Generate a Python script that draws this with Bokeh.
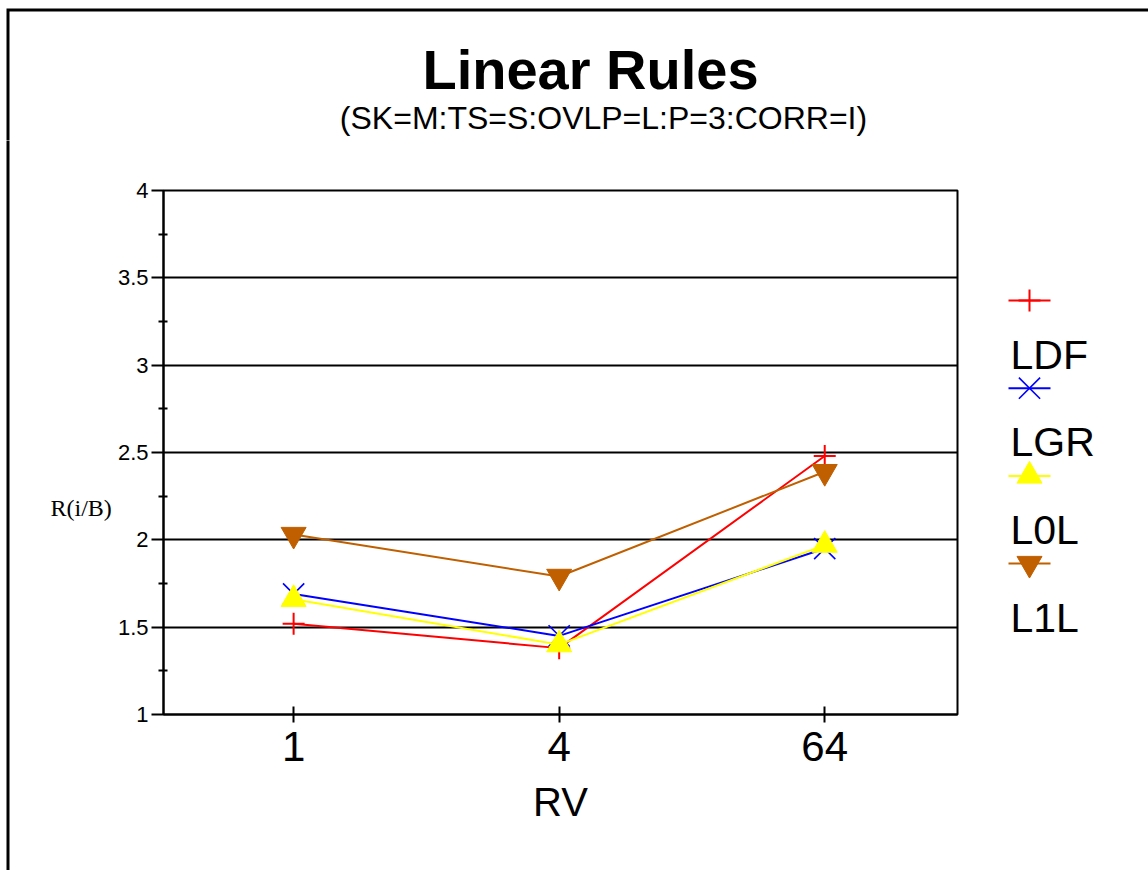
from bokeh.plotting import figure
from bokeh.layouts import row, column
from bokeh.models import Range1d, FixedTicker, NumeralTickFormatter
from bokeh.core.properties import value
from bokeh.embed import file_html
from bokeh.resources import INLINE

# ---- data -------------------------------------------------------------
rv_labels = ["1", "4", "64"]
ldf = [1.52, 1.38, 2.48]
lgr = [1.69, 1.45, 1.95]
l0l = [1.66, 1.40, 1.97]
l1l = [2.03, 1.79, 2.39]
series_names = ["LDF", "LGR", "L0L", "L1L"]
y_ticks = [1, 1.5, 2, 2.5, 3, 3.5, 4]
y_minor_ticks = [1.25, 1.75, 2.25, 2.75, 3.25, 3.75]

# ---- layout constants (canvas pixels) ---------------------------------
FONT = "Liberation Sans"
W, H = 1148, 870
TOP_H = 140                  # heading strip
LEFT_W = 114                 # strip holding the vertical caption
LEG_X = 990                  # legend strip starts here
FL, FR, FT, FB = 163, 957, 190, 714      # plot frame edges on the page
X0, X1 = -0.49, 2.5
Y0, Y1 = 1, 4
EDGE_X, EDGE_Y = 7.5, 9.5    # page frame lines (3px wide, pixel aligned)
BASE_SHIFT = 0.39            # text glyph baseline offset, in em

series = [
    (ldf, "#FF0000", "cross", 22, 2.0),
    (lgr, "#0000FF", "x", 30, 1.6),
    (l0l, "#FFFF00", "triangle", 25, 1.0),
    (l1l, "#C05F00", "inverted_triangle", 25, 1.0),
]


def strip(width, height, x0, y0):
    """A bare figure whose frame fills its canvas, addressed in page pixels."""
    f = figure(width=width, height=height, output_backend="svg", toolbar_location=None,
               x_range=Range1d(x0, x0 + width), y_range=Range1d(y0 + height, y0),
               x_axis_type=None, y_axis_type=None, min_border=0)
    f.frame_align = False
    f.outline_line_color = None
    f.background_fill_color = "white"
    f.border_fill_color = "white"
    f.grid.visible = False
    return f


def baseline(y, size):
    return y - BASE_SHIFT * size


# ---- heading strip ----------------------------------------------------
top = strip(W, TOP_H, 0, 0)
top.line([EDGE_X, EDGE_X, W + 10], [TOP_H + 20, EDGE_Y, EDGE_Y], line_color="black",
         line_width=3, line_join="miter")
top.text(x=[590], y=[baseline(91, 56)], text=["Linear Rules"], text_align="center",
         text_baseline="alphabetic", text_font=value(FONT), text_font_size="56px",
         text_font_style="bold", text_color="black")
top.text(x=[603], y=[baseline(130, 32)], text=["(SK=M:TS=S:OVLP=L:P=3:CORR=I)"],
         text_align="center", text_baseline="alphabetic", text_font=value(FONT),
         text_font_size="32px", text_color="black")

# ---- left strip with the vertical caption -----------------------------
left = strip(LEFT_W, H - TOP_H, 0, TOP_H)
left.line([EDGE_X, EDGE_X], [TOP_H - 20, H + 20], line_color="black", line_width=3)
left.text(x=[50], y=[baseline(517, 24)], text=["R(i/B)"], text_align="left",
          text_baseline="alphabetic", text_font=value("Liberation Serif"),
          text_font_size="24px", text_color="black")

# ---- main chart -------------------------------------------------------
MAIN_W = LEG_X - LEFT_W
p = figure(width=MAIN_W, height=H - TOP_H, output_backend="svg", toolbar_location=None,
           x_range=Range1d(X0, X1), y_range=Range1d(Y0, Y1),
           min_border_left=FL - LEFT_W, min_border_right=LEG_X - FR,
           min_border_top=FT - TOP_H, min_border_bottom=H - FB)
p.background_fill_color = "white"
p.border_fill_color = "white"
p.outline_line_color = "black"
p.outline_line_width = 2

xs = list(range(len(rv_labels)))
for vals, color, marker, size, mlw in series:
    p.line(xs, vals, line_color=color, line_width=2)
    p.scatter(xs, vals, marker=marker, size=size, line_color=color,
              fill_color=color, line_width=mlw)

# x axis
p.xaxis.ticker = FixedTicker(ticks=xs)
p.xaxis.major_label_overrides = {i: t for i, t in enumerate(rv_labels)}
p.xaxis.major_label_text_font = FONT
p.xaxis.major_label_text_font_size = "42px"
p.xaxis.major_label_text_color = "black"
p.xaxis.major_label_standoff = 9
p.xaxis.major_tick_in = 8
p.xaxis.major_tick_out = 8
p.xaxis.axis_label = "RV"
p.xaxis.axis_label_text_font = FONT
p.xaxis.axis_label_text_font_size = "40px"
p.xaxis.axis_label_text_font_style = "normal"
p.xaxis.axis_label_text_color = "black"
p.xaxis.axis_label_standoff = 16

# y axis
p.yaxis.ticker = FixedTicker(ticks=y_ticks, minor_ticks=y_minor_ticks)
p.yaxis.formatter = NumeralTickFormatter(format="0.[0]")
p.yaxis.major_label_text_font = FONT
p.yaxis.major_label_text_font_size = "22px"
p.yaxis.major_label_text_color = "black"
p.yaxis.major_label_standoff = 3
p.yaxis.major_tick_in = 0
p.yaxis.major_tick_out = 12
p.yaxis.minor_tick_in = 4
p.yaxis.minor_tick_out = 5

for ax in (p.xaxis, p.yaxis):
    ax.axis_line_color = "black"
    ax.axis_line_width = 2
    ax.major_tick_line_color = "black"
    ax.major_tick_line_width = 2
    ax.minor_tick_line_color = "black"
    ax.minor_tick_line_width = 2
p.xaxis.minor_tick_line_color = None

p.xgrid.visible = False
p.ygrid.ticker = FixedTicker(ticks=y_ticks)
p.ygrid.grid_line_color = "black"
p.ygrid.grid_line_width = 2

# ---- legend strip -----------------------------------------------------
leg = strip(W - LEG_X, H - TOP_H, LEG_X, TOP_H)

LEG_MARK_X = 1029
LEG_LINE_X0, LEG_LINE_X1 = 1008, 1050
LEG_ROW0, LEG_STEP = 300, 87.7
LEG_TEXT_X, LEG_TEXT_DY = 1010, 70

for i, (vals, color, marker, size, mlw) in enumerate(series):
    yy = LEG_ROW0 + i * LEG_STEP
    leg.segment(x0=[LEG_LINE_X0], y0=[yy], x1=[LEG_LINE_X1], y1=[yy],
                line_color=color, line_width=2)
    leg.scatter([LEG_MARK_X], [yy], marker=marker, size=size, line_color=color,
                fill_color=color, line_width=mlw)

leg.text(x=[LEG_TEXT_X] * len(series_names),
         y=[baseline(LEG_ROW0 + LEG_TEXT_DY + i * LEG_STEP, 41)
            for i in range(len(series_names))],
         text=series_names, text_font=value(FONT), text_font_size="41px",
         text_baseline="alphabetic", text_color="black")

layout = column(top, row(left, p, leg, spacing=0), spacing=0)
open("out.html", "w").write(file_html(layout, INLINE))
